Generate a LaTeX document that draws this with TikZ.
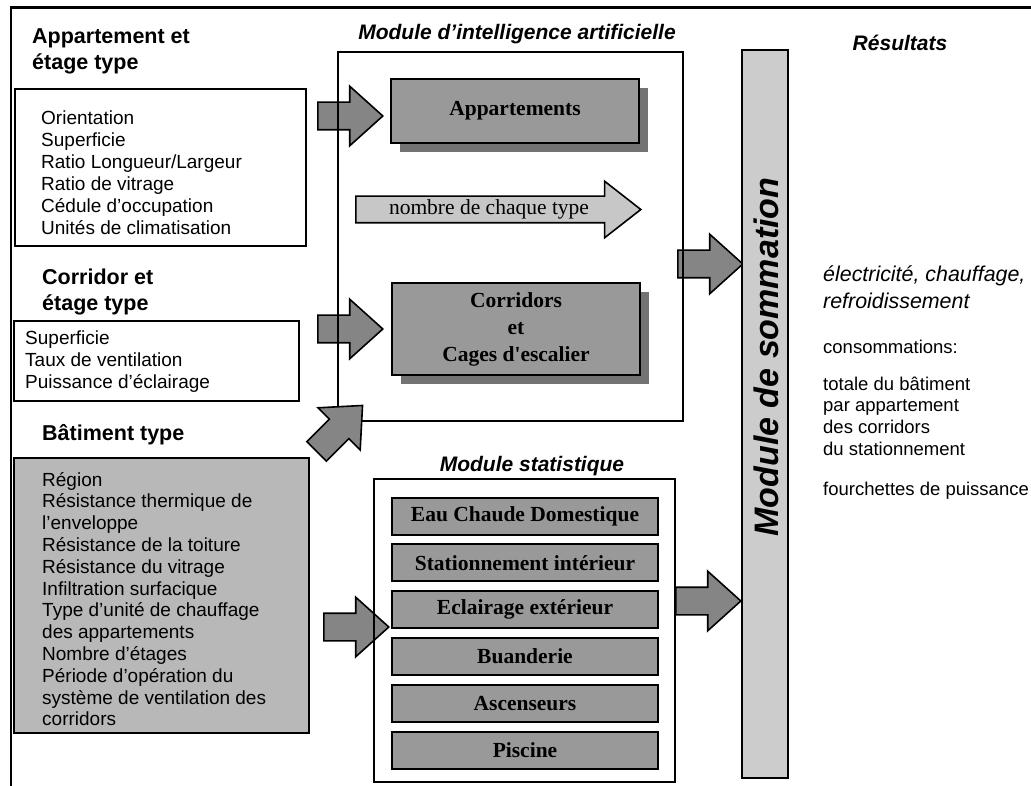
\documentclass[tikz,border=0pt]{standalone}
\usepackage{fontspec}
\setmainfont{Liberation Sans}
\newfontfamily\tnr{Liberation Serif}
\usetikzlibrary{shapes.arrows,shadows}

\tikzset{
  titre/.style={font=\bfseries\itshape\fontsize{21}{25}\selectfont, anchor=base},
  entete/.style={font=\bfseries\fontsize{21.5}{26}\selectfont, align=left, anchor=north west, inner sep=0pt},
  liste/.style={font=\fontsize{19}{22}\selectfont, align=left, anchor=north west, inner sep=0pt},
  resultat/.style={font=\fontsize{18.5}{21.7}\selectfont, align=left, inner sep=0pt},
  boite/.style={draw, line width=1.8pt, anchor=north west, inner sep=0pt},
  module/.style={draw, line width=2.4pt, inner sep=0pt},
  bloc/.style={draw, line width=2pt, fill=black!40, font=\tnr\bfseries\fontsize{21.5}{27}\selectfont, align=center, inner sep=0pt},
  ombre/.style={drop shadow={shadow xshift=9pt, shadow yshift=-9pt, fill=black!55, opacity=1}},
  fleche/.style={single arrow, draw, line width=1.6pt, fill=black!48, inner xsep=0pt, inner ysep=13pt,
    single arrow head extend=16pt, single arrow tip angle=84, minimum height=65pt, anchor=tail},
}

\begin{document}
\begin{tikzpicture}[x=1pt,y=-1pt]
  \useasboundingbox (0,0) rectangle (1031,786);
  % cadre
  \draw[line width=3pt] (10,8) -- (1031,8);
  \draw[line width=2.4pt] (11,8) -- (11,786);

  % fleches sous les cadres
  \node[fleche] (a1) at (317,116) {};
  \node[fleche] (a2) at (317,329) {};
  \node[fleche] (a4) at (323,627) {};
  \node[fleche] (a5) at (677,264) {};
  \node[fleche] (a6) at (675,601) {};

  % donnees d'entree
  \node[entete] (hAppt) at (32,29) {Appartement et\\étage type};
  \node[boite, minimum width=291pt, minimum height=157pt] (appt) at (14,88) {};
  \node[liste] (lAppt) at (41,111) {Orientation\\Superficie\\Ratio Longueur/Largeur\\Ratio de vitrage\\Cédule d'occupation\\Unités de climatisation};

  \node[entete] (hCorr) at (42,269) {Corridor et\\étage type};
  \node[boite, minimum width=285pt, minimum height=80pt] (corr) at (13,320) {};
  \node[liste] (lCorr) at (25,331) {Superficie\\Taux de ventilation\\Puissance d'éclairage};

  \node[entete] (hBat) at (42,424) {Bâtiment type};
  \node[boite, fill=black!28, minimum width=295pt, minimum height=275pt] (bat) at (13,457) {};
  \node[liste, font=\fontsize{19}{21.8}\selectfont] (lBat) at (42,472) {Région\\Résistance thermique de\\l'enveloppe\\Résistance de la toiture\\Résistance du vitrage\\Infiltration surfacique\\Type d'unité de chauffage\\des appartements\\Nombre d'étages\\Période d'opération du\\système de ventilation des\\corridors};

  % module d'intelligence artificielle
  \node[titre] (tIa) at (517,40) {Module d’intelligence artificielle};
  \node[module, minimum width=345pt, minimum height=369pt] (ia) at (510.5,236.5) {};
  \node[bloc, ombre, minimum width=248pt, minimum height=64pt] (appts) at (515,111) {Appartements};
  \node[single arrow, draw, line width=1.6pt, fill=black!22, inner xsep=0pt, inner ysep=12.5pt,
    single arrow head extend=15pt, single arrow tip angle=76, minimum height=285pt, anchor=tail] (nb) at (355,209.5) {};
  \node[font=\tnr\fontsize{21.5}{25}\selectfont] (tNb) at (489,209.5) {nombre de chaque type};
  \node[bloc, ombre, minimum width=248pt, minimum height=92pt] (cages) at (516,329) {Corridors\\et\\Cages d'escalier};

  % module statistique
  \node[titre] (tStat) at (532,471) {Module statistique};
  \node[module, minimum width=301pt, minimum height=303pt] (stat) at (524.5,630.5) {};
  \foreach \t [count=\i] in {Eau Chaude Domestique, Stationnement intérieur, Eclairage extérieur, Buanderie, Ascenseurs, Piscine}
    \node[bloc, minimum width=266pt, minimum height=37pt] (s\i) at (525,469.2+46.8*\i) {\t};

  \node[fleche, rotate=45] (a3) at (316,452) {};

  % module de sommation
  \node[module, fill=black!20, minimum width=46pt, minimum height=728pt] (somme) at (765,414) {};
  \node[rotate=90, font=\bfseries\itshape\fontsize{34}{40}\selectfont] (tSomme) at (766,357) {Module de sommation};

  % resultats
  \node[titre] (tRes) at (900,51) {Résultats};
  \node[resultat, anchor=north west, font=\itshape\fontsize{21.4}{26.5}\selectfont] (r1) at (823,266) {électricité, chauffage,\\refroidissement};
  \node[resultat, anchor=base west] (r2) at (823,353) {consommations:};
  \node[resultat, anchor=north west] (r3) at (823,376.5) {totale du bâtiment\\par appartement\\des corridors\\du stationnement};
  \node[resultat, anchor=base west] (r4) at (823,495) {fourchettes de puissance};
\end{tikzpicture}
\end{document}
